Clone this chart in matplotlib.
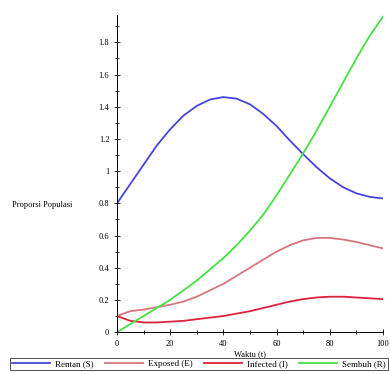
import matplotlib
matplotlib.use("Agg")
import matplotlib.pyplot as plt
from matplotlib.ticker import MultipleLocator

# waktu (t) and proporsi for each compartment
t = [0, 5, 10, 15, 20, 25, 30, 35, 40, 45, 50, 55, 60, 65, 70, 75, 80, 85, 90, 95, 100]
rentan = [0.80, 0.92, 1.04, 1.16, 1.26, 1.345, 1.405, 1.445, 1.46, 1.45, 1.415,
          1.355, 1.28, 1.19, 1.105, 1.025, 0.955, 0.90, 0.862, 0.84, 0.83]
exposed = [0.10, 0.13, 0.14, 0.155, 0.17, 0.19, 0.22, 0.26, 0.30, 0.35, 0.40,
           0.45, 0.50, 0.54, 0.57, 0.585, 0.585, 0.575, 0.56, 0.54, 0.52]
infected = [0.10, 0.07, 0.06, 0.06, 0.065, 0.07, 0.08, 0.09, 0.10, 0.115, 0.13,
            0.15, 0.17, 0.19, 0.205, 0.215, 0.22, 0.22, 0.215, 0.21, 0.205]
sembuh = [0.0, 0.05, 0.10, 0.15, 0.20, 0.26, 0.32, 0.39, 0.46, 0.54, 0.63,
          0.73, 0.85, 0.98, 1.11, 1.25, 1.40, 1.55, 1.70, 1.84, 1.96]

labels = ["Rentan (S)", "Exposed (E)", "Infected (I)", "Sembuh (R)"]
colors = ["#4545dd", "#d9747e", "#e0203a", "#44e044"]

plt.rcParams["font.family"] = ["Liberation Serif", "DejaVu Serif"]

fig = plt.figure(figsize=(3.9, 3.74), dpi=100)
ax = fig.add_axes([0.30, 0.112, 0.682, 0.848])

for y, lab, c in zip([rentan, exposed, infected, sembuh], labels, colors):
    ax.plot(t, y, color=c, lw=1.3, label=lab, solid_joinstyle="round")

ax.set_xlim(0, 100)
ax.set_ylim(0, 1.97)
ax.spines["top"].set_visible(False)
ax.spines["right"].set_visible(False)
ax.spines["left"].set_linewidth(0.7)
ax.spines["bottom"].set_linewidth(0.7)

ax.xaxis.set_major_locator(MultipleLocator(20))
ax.xaxis.set_minor_locator(MultipleLocator(10))
ax.yaxis.set_major_locator(MultipleLocator(0.2))
ax.yaxis.set_minor_locator(MultipleLocator(0.1))
ax.tick_params(which="both", direction="inout", labelsize=6, width=0.6)
ax.tick_params(which="major", length=4)
ax.tick_params(which="minor", length=2.5)
ax.yaxis.set_major_formatter(lambda v, p: "0" if abs(v) < 1e-9 else ("1" if abs(v - 1) < 1e-9 else f"{v:.1f}"))

ax.set_xlabel("Waktu (t)", fontsize=6, labelpad=2)
fig.text(0.03, 1 - 205 / 374, "Proporsi Populasi", fontsize=6, va="center", ha="left")

leg = fig.legend(loc="center", bbox_to_anchor=(0.51, 0.027), ncol=4, fontsize=6.5,
                 frameon=True, fancybox=False, edgecolor="black", handlelength=4.2,
                 columnspacing=1.2, handletextpad=0.6, borderpad=0.2)
leg.get_frame().set_linewidth(0.6)

plt.savefig("out.png", dpi=100)
